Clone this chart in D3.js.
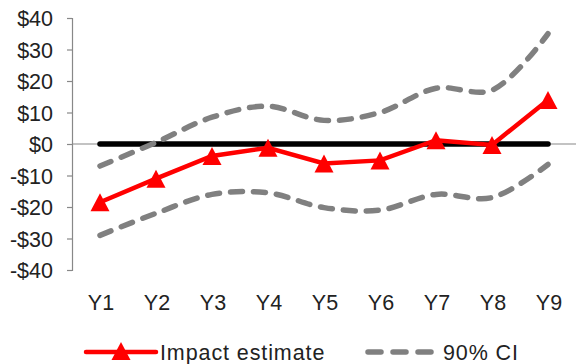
<!DOCTYPE html>
<html><head><meta charset="utf-8">
<script src="https://cdn.jsdelivr.net/npm/d3@7"></script>
<style>body{margin:0;background:#fff}svg{display:block;font-family:"Liberation Sans",Arial,sans-serif}</style>
</head><body>
<svg id="c" width="576" height="364"></svg>
<script>
const categories = ["Y1","Y2","Y3","Y4","Y5","Y6","Y7","Y8","Y9"];
const impact = [-18.5,-11,-3.8,-1.2,-6.2,-5.2,1.2,-0.3,14];
const ciUpper = [-7,0.5,8.5,12,7.5,10,17.7,17.1,35];
const ciLower = [-29,-22,-16,-15.5,-20.2,-21,-16,-17,-6.5];
const yTicks = [-40,-30,-20,-10,0,10,20,30,40];

const FS = 21.5;
const svg = d3.select("#c");
const x = d3.scaleBand().domain(categories).range([72,576]);
const y = d3.scaleLinear().domain([-40,40]).range([270,18]);
const cx = d => x(d)+x.bandwidth()/2;
const fmt = v => (v<0?"-":"")+"$"+Math.abs(v);

// y axis
const ya = svg.append("g").attr("transform","translate(72,0)")
  .call(d3.axisLeft(y).tickValues(yTicks).tickFormat(fmt).tickSize(5).tickPadding(14));
ya.select(".domain").attr("stroke","#888").attr("stroke-width",1.2);
ya.selectAll(".tick line").attr("stroke","#888").attr("stroke-width",1.2);
ya.selectAll("text").attr("font-size",FS).attr("fill","#222").attr("dy","0.36em")
  .attr("font-family","Liberation Sans, Arial, sans-serif");

// x axis (at zero)
svg.append("line").attr("x1",72).attr("x2",576).attr("y1",y(0)).attr("y2",y(0)).attr("stroke","#888").attr("stroke-width",1.2);
svg.append("g").selectAll("text").data(categories).join("text")
  .attr("x",d=>cx(d)+1).attr("y",310).attr("text-anchor","middle")
  .attr("font-size",FS).attr("fill","#222").text(d=>d);

// zero line thick
svg.append("line").attr("x1",cx(categories[0])).attr("x2",cx(categories[8]))
  .attr("y1",y(0)).attr("y2",y(0)).attr("stroke","#000").attr("stroke-width",5.5).attr("stroke-linecap","round");

const smooth = d3.line().x((d,i)=>cx(categories[i])).y(d=>y(d)).curve(d3.curveCatmullRom.alpha(0.5));
const straight = d3.line().x((d,i)=>cx(categories[i])).y(d=>y(d));
[ciUpper,ciLower].forEach(s=>{
  svg.append("path").attr("d",smooth(s)).attr("fill","none").attr("stroke","#808080")
    .attr("stroke-width",5.5).attr("stroke-dasharray","12,11").attr("stroke-linecap","round");
});
svg.append("path").attr("d",straight(impact)).attr("fill","none").attr("stroke","#ff0000").attr("stroke-width",4.5);

const tri = (px,py,w,h)=>`M${px},${py-h/2}L${px+w/2},${py+h/2}L${px-w/2},${py+h/2}Z`;
svg.append("g").selectAll("path").data(impact).join("path")
  .attr("d",(d,i)=>tri(cx(categories[i]),y(d),19,18)).attr("fill","#ff0000");

// legend
const ly = 352;
svg.append("line").attr("x1",86).attr("x2",156).attr("y1",ly).attr("y2",ly).attr("stroke","#ff0000").attr("stroke-width",4.5).attr("stroke-linecap","round");
svg.append("path").attr("d",tri(121,ly-1,19,18)).attr("fill","#ff0000");
svg.append("text").attr("x",160).attr("y",ly+7.5).attr("font-size",FS).attr("letter-spacing",0.9).attr("fill","#222").text("Impact estimate");
svg.append("line").attr("x1",368).attr("x2",431).attr("y1",ly).attr("y2",ly).attr("stroke","#808080").attr("stroke-width",5.5).attr("stroke-dasharray","13,12").attr("stroke-linecap","round");
svg.append("text").attr("x",443).attr("y",ly+7.5).attr("font-size",FS).attr("letter-spacing",0.9).attr("fill","#222").text("90% CI");
</script>
</body></html>
